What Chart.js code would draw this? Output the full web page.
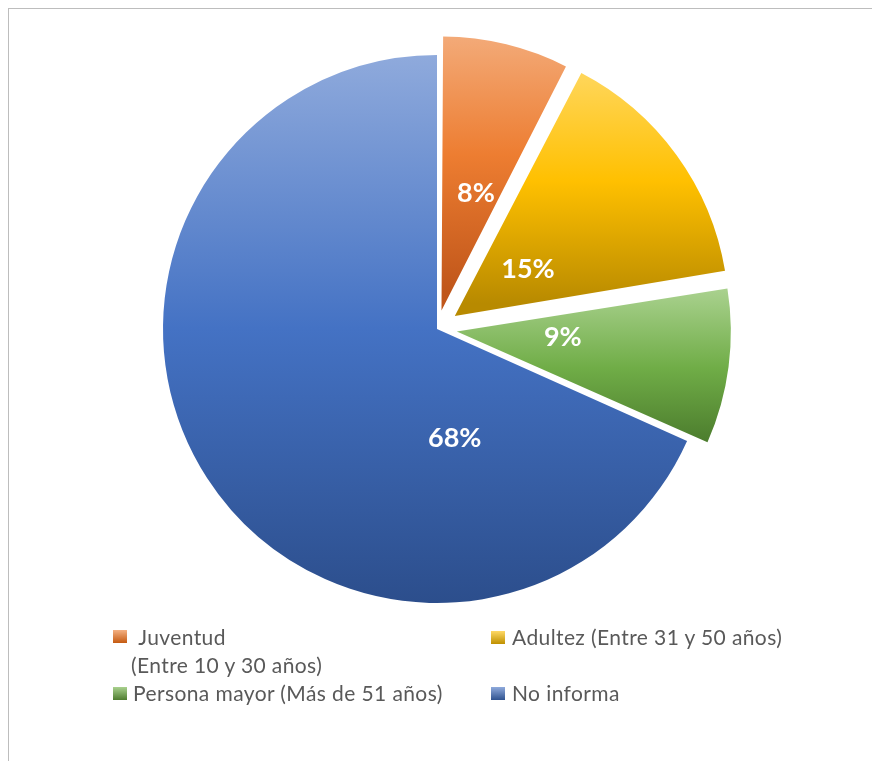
<!DOCTYPE html>
<html lang="es">
<head>
<meta charset="utf-8">
<title>Distribución por edad</title>
<script src="https://cdn.jsdelivr.net/npm/chart.js@4.4.1/dist/chart.umd.min.js"></script>
<style>
    body { margin: 0; background: #fff; }
    #marco { position: absolute; left: 8px; top: 8px; width: 900px; height: 800px;
             border-left: 1px solid #bdbdbd; border-top: 1px solid #bdbdbd; }
    #lienzo { position: absolute; left: 0; top: 0; }
    .texto { position: absolute; font-family: Lato, "Open Sans", sans-serif; font-size: 21px;
             line-height: 21px; letter-spacing: 0.4px; color: #595959; white-space: pre; }
    .cuadro { position: absolute; width: 14px; height: 13px; }
</style>
</head>
<body>
<div id="marco"></div>
<canvas id="lienzo" width="872" height="761"></canvas>

<!-- Leyenda en dos columnas -->
<div class="cuadro" style="left:113px; top:630px; background:linear-gradient(#f4b183,#c55a11);"></div>
<div class="texto" style="left:133px; top:626px;"> Juventud</div>
<div class="texto" style="left:131px; top:654px;">(Entre 10 y 30 años)</div>
<div class="cuadro" style="left:491px; top:631px; background:linear-gradient(#ffd966,#bf9000);"></div>
<div class="texto" style="left:512px; top:626px;">Adultez (Entre 31 y 50 años)</div>
<div class="cuadro" style="left:113px; top:687px; background:linear-gradient(#a9d18e,#4e7c2f);"></div>
<div class="texto" style="left:133px; top:682px;">Persona mayor (Más de 51 años)</div>
<div class="cuadro" style="left:491px; top:687px; background:linear-gradient(#8faadc,#2f528f);"></div>
<div class="texto" style="left:512px; top:682px;">No informa</div>

<script>
// Datos del gráfico
const categorias = ['Juventud (Entre 10 y 30 años)', 'Adultez (Entre 31 y 50 años)', 'Persona mayor (Más de 51 años)', 'No informa'];
const porcentajes = [7.6, 14.8, 9.3, 68.3];

// Colores del degradado (arriba, medio, abajo) y separación de cada porción
const coloresArriba = ['#f4b183', '#ffd966', '#a9d18e', '#8faadc'];
const coloresMedio  = ['#ed7d31', '#ffc000', '#70ad47', '#4472c4'];
const coloresAbajo  = ['#c0561a', '#b88a00', '#4a7a2c', '#2c4e8c'];
const separacion = [19, 22, 20, 0];   // en píxeles
const radio = 274;

// Posición de cada etiqueta: fracción del ángulo de la porción y fracción del radio
const lugarEtiqueta = [[0.58, 0.52], [0.54, 0.40], [0.38, 0.46], [0.23, 0.40]];

const total = porcentajes.reduce((a, b) => a + b, 0);

// Degradado vertical sobre la caja de cada porción
function degradado(c) {
    const chart = c.chart;
    const area = chart.chartArea;
    const i = c.dataIndex;
    if (!area) return coloresMedio[i];
    const cx = (area.left + area.right) / 2;
    const cy = (area.top + area.bottom) / 2;
    let antes = 0;
    for (let k = 0; k < i; k++) antes += porcentajes[k];
    const a0 = antes / total * 2 * Math.PI - Math.PI / 2;
    const a1 = (antes + porcentajes[i]) / total * 2 * Math.PI - Math.PI / 2;
    const medio = (a0 + a1) / 2;
    const oy = cy + separacion[i] * Math.sin(medio);
    let ymin = oy, ymax = oy;
    for (let k = 0; k <= 60; k++) {
        const y = oy + radio * Math.sin(a0 + (a1 - a0) * k / 60);
        ymin = Math.min(ymin, y);
        ymax = Math.max(ymax, y);
    }
    const g = chart.ctx.createLinearGradient(0, ymin, 0, ymax);
    g.addColorStop(0, coloresArriba[i]);
    g.addColorStop(0.5, coloresMedio[i]);
    g.addColorStop(1, coloresAbajo[i]);
    return g;
}

// Chart.js v4 mueve el arco offset/4 y le agranda el radio (offset/4)·(1 - sen(ángulo)):
// se compensa el radio para que las porciones separadas conserven su tamaño
const separar = {
    id: 'separar',
    afterDatasetsUpdate(chart) {
        chart.getDatasetMeta(0).data.forEach(el => {
            const mover = (el.options.offset || 0) / 4;
            const ang = el.endAngle - el.startAngle;
            const fix = 1 - Math.sin(Math.min(Math.PI, ang));
            el.outerRadius = radio - mover * fix;
        });
    }
};

// Etiquetas de porcentaje dentro de las porciones
const etiquetas = {
    id: 'etiquetas',
    afterDatasetsDraw(chart) {
        const ctx = chart.ctx;
        const meta = chart.getDatasetMeta(0);
        ctx.save();
        ctx.fillStyle = '#ffffff';
        ctx.font = 'bold 27px Lato, "Open Sans", sans-serif';
        ctx.textAlign = 'center';
        ctx.textBaseline = 'middle';
        meta.data.forEach((el, i) => {
            const p = el.getProps(['x', 'y', 'startAngle', 'endAngle'], true);
            const ang = p.startAngle + (p.endAngle - p.startAngle) * lugarEtiqueta[i][0];
            const r = radio * lugarEtiqueta[i][1];
            const texto = Math.round(porcentajes[i] / total * 100) + '%';
            ctx.fillText(texto, p.x + r * Math.cos(ang), p.y + r * Math.sin(ang) + 1);
        });
        ctx.restore();
    }
};

new Chart(document.getElementById('lienzo'), {
    type: 'pie',
    data: {
        labels: categorias,
        datasets: [{
            data: porcentajes,
            backgroundColor: degradado,
            borderWidth: 0,
            offset: separacion.map(s => s * 4),
            radius: radio
        }]
    },
    options: {
        responsive: false,
        animation: false,
        events: [],
        layout: { padding: { left: 2, right: 0, top: 0, bottom: 103 } },
        plugins: {
            legend: { display: false },
            tooltip: { enabled: false }
        }
    },
    plugins: [separar, etiquetas]
});
</script>
</body>
</html>
